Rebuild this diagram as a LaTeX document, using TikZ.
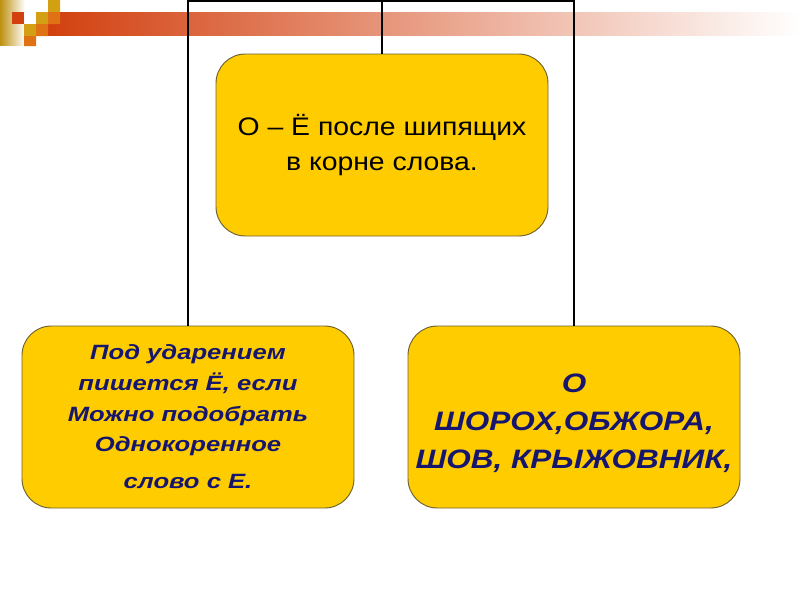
\documentclass[tikz,border=0pt]{standalone}
\usepackage{fontspec}
\setmainfont{Liberation Sans}
\newfontfamily\qsans[FakeStretch=1.12]{Liberation Sans}
\newfontfamily\lsans[FakeStretch=1.24]{Liberation Sans}
\newfontfamily\rsans[FakeStretch=1.18]{Liberation Sans}
\definecolor{BoxGold}{HTML}{FFCC00}
\definecolor{BoxEdge}{HTML}{6E6232}
\definecolor{RuleNavy}{HTML}{16166E}
\definecolor{BarRed}{HTML}{D2400F}
\definecolor{SqGold}{HTML}{D2A012}
\definecolor{SqOrange}{HTML}{DE7214}
\usetikzlibrary{positioning}

\begin{document}
\begin{tikzpicture}[x=0.75pt, y=-0.75pt,
    b/.style={rectangle, rounded corners=22pt, draw=BoxEdge, line width=0.7pt, fill=BoxGold,
      minimum width=249pt, minimum height=136.5pt, align=center},
    w/.style={line width=1.1pt, black}]
  \useasboundingbox (0,0) rectangle (800,600);
  \shade[left color=SqGold!90!black, right color=white] (0,0) rectangle (25,45);
  \shade[left color=BarRed, right color=white] (48,12) rectangle (800,35);
  \fill[BarRed] (12,12) rectangle (24,24);
  \fill[SqGold] (48,0) rectangle (60,12) (36,12) rectangle (48,24) (24,24) rectangle (36,36);
  \fill[SqOrange] (48,12) rectangle (60,24) (36,24) rectangle (48,36) (24,36) rectangle (36,46);
  \node[b, font=\qsans\fontsize{19}{26}\selectfont] (q) at (382,145) {О – Ё после шипящих\\в корне слова.};
  \node[b, text=RuleNavy, font=\lsans\fontsize{15.5}{22.9}\selectfont\bfseries\itshape] (l) at (188,417)
    {Под ударением\\ пишется Ё, если\\Можно подобрать\\Однокоренное\\[5pt]слово с Е.};
  \node[b, text=RuleNavy, font=\rsans\fontsize{20}{28.5}\selectfont\bfseries\itshape] (r) at (574,417)
    {\rule{0pt}{24pt}О\\ШОРОХ,ОБЖОРА,\\ШОВ, КРЫЖОВНИК,};
  \coordinate (hub) at (382,1);
  \draw[w] (q.north) -- (hub) -| (l.north);
  \draw[w] (hub) -| (r.north);
\end{tikzpicture}
\end{document}
